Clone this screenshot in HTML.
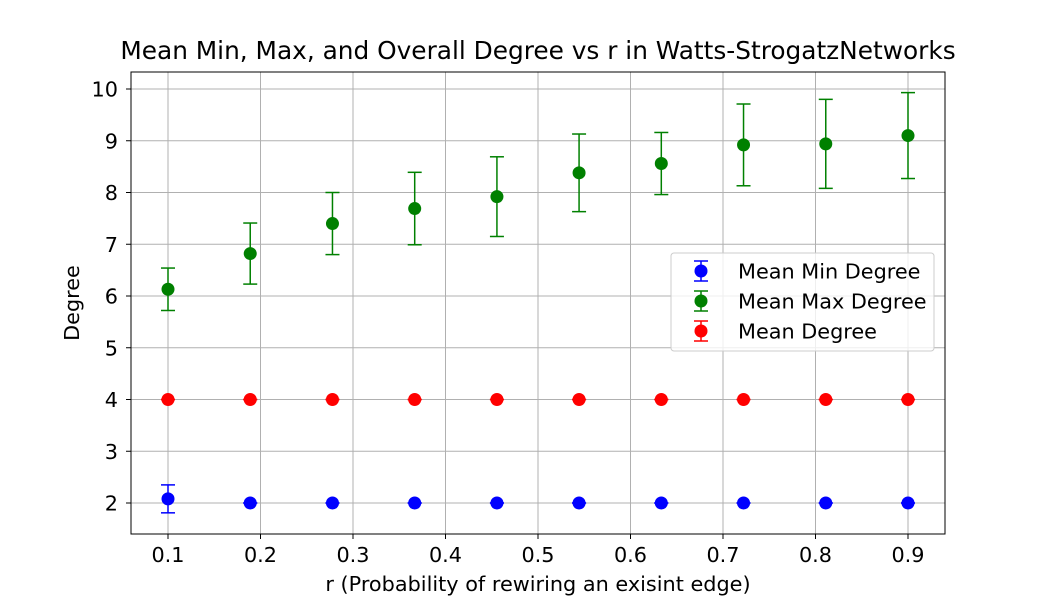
<!DOCTYPE html>
<html><head><meta charset="utf-8"><style>
body{margin:0;background:#fff;}
svg text{font-family:"DejaVu Sans","Liberation Sans",sans-serif;fill:#000;}
</style></head><body>
<svg id="chart" width="1050" height="600" xmlns="http://www.w3.org/2000/svg">
<text x="538" y="59" font-size="24.8" text-anchor="middle">Mean Min, Max, and Overall Degree vs r in Watts-StrogatzNetworks</text>
<g id="grid"></g>
<g id="ticks"></g>
<g id="marks"></g>
<rect x="131" y="72" width="814" height="462" fill="none" stroke="#000" stroke-width="1"/>
<text x="538" y="591" font-size="20.8" text-anchor="middle">r (Probability of rewiring an exisint edge)</text>
<text x="79" y="303" font-size="20.8" text-anchor="middle" transform="rotate(-90 79 303)">Degree</text>
<g id="legend">
<rect x="671" y="253" width="263" height="98" rx="3" fill="#fff" fill-opacity="0.8" stroke="#ccc"/>
</g>
</svg>
<script>
const rValues=[0.1,0.1889,0.2778,0.3667,0.4556,0.5444,0.6333,0.7222,0.8111,0.9];
const minMeans=[2.08,2,2,2,2,2,2,2,2,2];
const minErr=[0.27,0,0,0,0,0,0,0,0,0];
const maxMeans=[6.13,6.82,7.40,7.69,7.92,8.38,8.56,8.92,8.94,9.10];
const maxErr=[0.41,0.59,0.60,0.70,0.77,0.75,0.60,0.79,0.86,0.83];
const degMeans=[4,4,4,4,4,4,4,4,4,4];
const degErr=[0,0,0,0,0,0,0,0,0,0];
const xTicks=[0.1,0.2,0.3,0.4,0.5,0.6,0.7,0.8,0.9];
const yTicks=[2,3,4,5,6,7,8,9,10];
const seriesNames=["Mean Min Degree","Mean Max Degree","Mean Degree"];
const seriesColors=["blue","green","red"];

const NS="http://www.w3.org/2000/svg";
const xs=v=>168+(v-0.1)*925;
const ys=v=>503-(v-2)*51.75;
function mk(tag,attrs,parent){const e=document.createElementNS(NS,tag);for(const k in attrs)e.setAttribute(k,attrs[k]);parent.appendChild(e);return e;}
const grid=document.getElementById('grid'),ticks=document.getElementById('ticks'),marks=document.getElementById('marks');
xTicks.forEach(t=>{const x=xs(t);
 const g=mk('line',{x1:x,x2:x,y1:72,y2:534,stroke:'#b0b0b0','stroke-width':1},grid);
 
 
 mk('line',{x1:x,x2:x,y1:534,y2:539,stroke:'#000'},ticks);
 const tx=mk('text',{x:x,y:562,'font-size':20.8,'text-anchor':'middle'},ticks);tx.textContent=t.toFixed(1);
 
 
});
yTicks.forEach(t=>{const y=ys(t);
 const g=mk('line',{x1:131,x2:945,y1:y,y2:y,stroke:'#b0b0b0','stroke-width':1},grid);
 
 
 mk('line',{x1:126,x2:131,y1:y,y2:y,stroke:'#000'},ticks);
 const tx=mk('text',{x:118,y:y+7.5,'font-size':20.8,'text-anchor':'end'},ticks);tx.textContent=t;
 
 
});
const series=[[minMeans,minErr],[maxMeans,maxErr],[degMeans,degErr]];
series.forEach((s,si)=>{const c=seriesColors[si];
 rValues.forEach((r,i)=>{const x=xs(r),m=s[0][i],e=s[1][i];
  const g=mk('g',{},marks);
  
  
  const y1=ys(m+e),y2=ys(m-e);
  mk('line',{x1:x,x2:x,y1:y1,y2:y2,stroke:c,'stroke-width':1.5},g);
  mk('line',{x1:x-7,x2:x+7,y1:y1,y2:y1,stroke:c,'stroke-width':1.5},g);
  mk('line',{x1:x-7,x2:x+7,y1:y2,y2:y2,stroke:c,'stroke-width':1.5},g);
  mk('circle',{cx:x,cy:ys(m),r:6.5,fill:c},g);
 });
});
const leg=document.getElementById('legend');
seriesNames.forEach((n,i)=>{const y=271+i*30,c=seriesColors[i];
 const g=mk('g',{},leg);
 
 
 mk('line',{x1:701,x2:701,y1:y-10,y2:y+10,stroke:c,'stroke-width':1.5},g);
 mk('line',{x1:694,x2:708,y1:y-10,y2:y-10,stroke:c,'stroke-width':1.5},g);
 mk('line',{x1:694,x2:708,y1:y+10,y2:y+10,stroke:c,'stroke-width':1.5},g);
 mk('circle',{cx:701,cy:y,r:6.5,fill:c},g);
 const t=mk('text',{x:738,y:y+7.5,'font-size':20.8},g);t.textContent=n;
});
</script>
</body></html>
